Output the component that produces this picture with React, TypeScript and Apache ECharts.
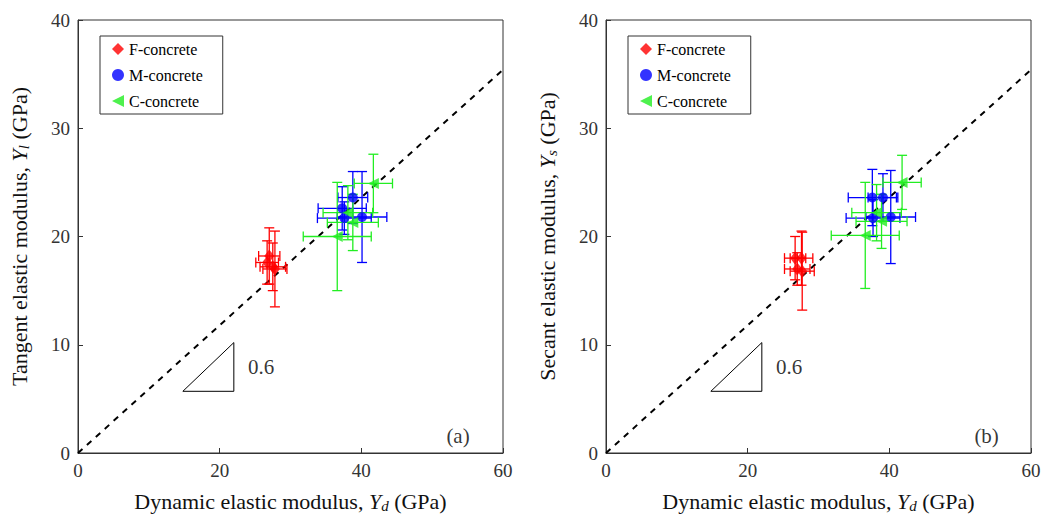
import * as echarts from "echarts";
import { useEffect, useRef } from "react";

// [x, y, xErr, yErr]
const fA = [[27.0, 18.2, 1.5, 2.6], [26.7, 17.6, 1.6, 2.0], [27.5, 17.2, 1.8, 2.2], [27.8, 17.0, 1.7, 3.5]];
const mA = [[38.8, 23.6, 2.1, 2.4], [37.3, 22.6, 3.4, 2.0], [37.6, 21.7, 3.8, 1.5], [40.1, 21.8, 3.5, 4.2]];
const cA = [[41.7, 24.9, 2.7, 2.7], [38.1, 22.2, 3.5, 2.5], [38.8, 21.3, 3.6, 2.6], [36.6, 20.0, 4.8, 5.0]];
const fB = [[26.7, 18.0, 1.5, 2.0], [27.6, 18.0, 1.6, 2.5], [27.0, 17.0, 1.8, 1.5], [27.7, 16.8, 1.7, 3.6]];
const mB = [[37.6, 23.6, 3.4, 2.6], [39.1, 23.6, 2.1, 2.2], [37.7, 21.7, 3.8, 1.7], [40.2, 21.8, 3.5, 4.3]];
const cB = [[41.8, 25.0, 2.7, 2.5], [38.2, 22.2, 3.5, 2.6], [38.9, 21.4, 3.6, 2.5], [36.6, 20.1, 4.8, 4.9]];
const SLOPE = 0.59;
const fitLine = [[0, 0], [60, 60 * SLOPE]];
const triangle = [[14.8, 5.7], [22.0, 5.7], [22.0, 10.2]];
const yNames = ["Tangent elastic modulus, {i|Y}{s|l} (GPa)", "Secant elastic modulus, {i|Y}{s|s} (GPa)"];
const panelLabels = ["(a)", "(b)"];

const FONT = "Liberation Serif";
const LEFT_TRI = "path://M0,5 L10,0 L10,10 Z";
const rich = {
  i: { fontFamily: FONT, fontSize: 22, fontStyle: "italic" as const, color: "#111" },
  s: { fontFamily: FONT, fontSize: 15, fontStyle: "italic" as const, color: "#111", padding: [9, 0, 0, 0] },
};

function errorSeries(data: number[][], color: string, g: number) {
  return {
    type: "custom" as const,
    xAxisIndex: g,
    yAxisIndex: g,
    silent: true,
    z: 1,
    data,
    renderItem: (_p: any, api: any) => {
      const x = api.value(0), y = api.value(1), ex = api.value(2), ey = api.value(3);
      const l = api.coord([x - ex, y]), r = api.coord([x + ex, y]);
      const t = api.coord([x, y + ey]), b = api.coord([x, y - ey]);
      const c = 5;
      const st = { stroke: color, lineWidth: 1.3 };
      const ln = (x1: number, y1: number, x2: number, y2: number) => ({ type: "line", shape: { x1, y1, x2, y2 }, style: st });
      return {
        type: "group",
        children: [
          ln(l[0], l[1], r[0], r[1]), ln(l[0], l[1] - c, l[0], l[1] + c), ln(r[0], r[1] - c, r[0], r[1] + c),
          ln(t[0], t[1], b[0], b[1]), ln(t[0] - c, t[1], t[0] + c, t[1]), ln(b[0] - c, b[1], b[0] + c, b[1]),
        ],
      };
    },
  };
}

function polySeries(pts: number[][], g: number) {
  return {
    type: "custom" as const, xAxisIndex: g, yAxisIndex: g, silent: true, data: [0],
    renderItem: (_p: any, api: any) => ({
      type: "polygon",
      shape: { points: pts.map((p) => api.coord(p)) },
      style: { fill: "none", stroke: "#000", lineWidth: 1 },
    }),
  };
}

export default function App() {
  const ref = useRef<HTMLDivElement>(null);
  useEffect(() => {
    if (!ref.current) return;
    const chart = echarts.init(ref.current, null, { renderer: "svg" });
    const panels = [[fA, mA, cA], [fB, mB, cB]];
    const series: any[] = [];
    panels.forEach(([f, m, c], g) => {
      series.push(
        { type: "line", xAxisIndex: g, yAxisIndex: g, data: fitLine, symbol: "none", lineStyle: { color: "#000", type: [6, 6], width: 2 }, z: 0 },
        errorSeries(f, "#ff0000", g), errorSeries(m, "#0000ff", g), errorSeries(c, "#22ee22", g),
        { name: "F-concrete", type: "scatter", xAxisIndex: g, yAxisIndex: g, data: f.map((d) => [d[0], d[1]]), symbol: "diamond", symbolSize: [10, 13], itemStyle: { color: "#ff0000" }, z: 3 },
        { name: "M-concrete", type: "scatter", xAxisIndex: g, yAxisIndex: g, data: m.map((d) => [d[0], d[1]]), symbol: "circle", symbolSize: 10, itemStyle: { color: "#0000ff" }, z: 3 },
        { name: "C-concrete", type: "scatter", xAxisIndex: g, yAxisIndex: g, data: c.map((d) => [d[0], d[1]]), symbol: LEFT_TRI, symbolSize: 11, itemStyle: { color: "#22ee22" }, z: 3 },
        polySeries(triangle, g),
        {
          type: "scatter", xAxisIndex: g, yAxisIndex: g, symbolSize: 0, silent: true,
          data: [{ value: [23.3, 7.9], label: { show: true, formatter: "0.6", position: "right", fontFamily: FONT, fontSize: 21, color: "#000" } },
            { value: [51.3, 1.6], label: { show: true, formatter: panelLabels[g], position: "right", fontFamily: FONT, fontSize: 21, color: "#000" } }],
        },
      );
    });
    const axisCommon = {
      axisLine: { lineStyle: { color: "#333" } },
      axisTick: { inside: true, length: 5, lineStyle: { color: "#333" } },
      axisLabel: { fontFamily: FONT, fontSize: 19, color: "#333" },
      splitLine: { show: false },
      nameLocation: "middle" as const,
      nameTextStyle: { fontFamily: FONT, fontSize: 22, color: "#111", rich },
    };
    chart.setOption({
      animation: false,
      grid: [
        { left: 78, right: 555, top: 20, bottom: 76, show: true, borderColor: "#333", borderWidth: 1 },
        { left: 606, right: 27, top: 20, bottom: 76, show: true, borderColor: "#333", borderWidth: 1 },
      ],
      legend: [0, 1].map((g) => ({
        data: ["F-concrete", "M-concrete", { name: "C-concrete", icon: LEFT_TRI }],
        orient: "vertical", left: g === 0 ? 100 : 628, top: 36,
        borderColor: "#333", borderWidth: 1, padding: [5, 20, 5, 12], itemGap: 10,
        itemWidth: 12, itemHeight: 12,
        textStyle: { fontFamily: FONT, fontSize: 16, color: "#000" },
      })),
      xAxis: [0, 1].map((g) => ({
        ...axisCommon, type: "value", gridIndex: g, min: 0, max: 60, interval: 20,
        name: "Dynamic elastic modulus, {i|Y}{s|d} (GPa)", nameGap: 36,
      })),
      yAxis: [0, 1].map((g) => ({
        ...axisCommon, type: "value", gridIndex: g, min: 0, max: 40, interval: 10,
        name: yNames[g], nameGap: 47,
      })),
      series,
    });
    return () => chart.dispose();
  }, []);
  return <div ref={ref} style={{ position: "absolute", left: 0, top: 0, width: 1058, height: 529, background: "#fff" }} />;
}
